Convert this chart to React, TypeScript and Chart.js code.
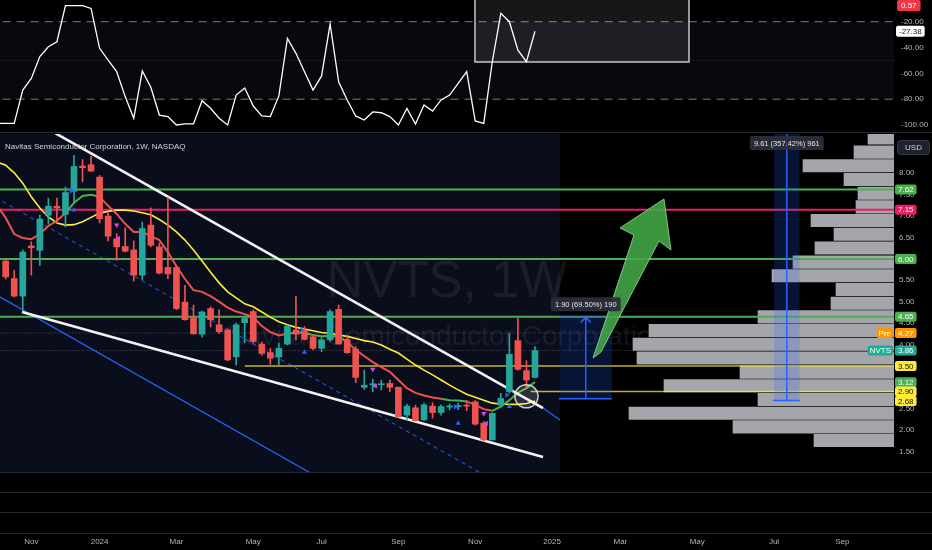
import React, { useEffect, useRef } from 'react';
import { Chart, registerables } from 'chart.js';

Chart.register(...registerables);

const FONT = '"Liberation Sans", Arial, Helvetica, sans-serif';
Chart.defaults.font.family = FONT;

const AXIS_TEXT = '#b2b5be';
const BULL = '#26a69a';
const BEAR = '#ef5350';
const GREEN = '#4caf50';
const PINK = '#e91e63';
const YELLOW = '#ffeb3b';
const BLUE = '#2962ff';

// x = weeks counted from the weekly bar of Mon 1 Jan 2024
const T_MIN = -11.667;
const T_MAX = 93.054;
const P_MIN = 1.021;
const P_MAX = 8.918;
const OSC_MIN = -105.42;
const OSC_MAX = -3.195;

const monthTickWeeks = [-8, 0, 9, 18, 26, 35, 44, 53, 61, 70, 79, 87];
const monthTickLabels = ['Nov', '2024', 'Mar', 'May', 'Jul', 'Sep', 'Nov', '2025', 'Mar', 'May', 'Jul', 'Sep'];

// ---- weekly candles, first bar = week -11 (Oct 16 2023) ----
const FIRST_CANDLE_WEEK = -11;
const opens = [5.95, 5.54, 5.13, 6.30, 6.20, 7.02, 7.23, 7.04, 7.58, 8.17, 8.20, 7.91, 7.00, 6.47, 6.29, 6.21, 5.62, 6.79, 6.28, 5.80, 5.80, 4.99, 4.62, 4.24, 4.84, 4.46, 4.34, 3.71, 4.51, 4.77, 4.01, 3.81, 3.71, 4.01, 4.34, 4.34, 4.18, 3.91, 4.11, 4.82, 4.12, 3.89, 3.00, 3.06, 3.06, 3.09, 3.00, 2.35, 2.52, 2.24, 2.56, 2.41, 2.54, 2.55, 2.58, 2.66, 2.16, 1.77, 2.58, 2.90, 4.09, 3.39, 3.23];
const highs = [6.00, 5.73, 6.21, 6.40, 7.02, 7.42, 7.42, 7.68, 8.42, 8.32, 8.40, 7.95, 7.07, 6.59, 6.73, 6.42, 6.86, 7.19, 6.37, 7.43, 5.83, 5.38, 4.92, 4.78, 4.88, 4.81, 4.36, 4.50, 4.67, 4.81, 4.06, 3.91, 4.03, 4.45, 5.13, 4.42, 4.22, 4.18, 4.81, 4.92, 4.22, 3.95, 3.40, 3.19, 3.17, 3.17, 3.01, 2.61, 2.58, 2.63, 2.64, 2.59, 2.61, 2.63, 2.69, 2.69, 2.20, 2.41, 2.86, 4.26, 4.61, 3.62, 3.95];
const lows = [5.53, 5.11, 4.80, 5.62, 5.85, 6.81, 6.84, 6.75, 7.33, 7.80, 8.05, 6.84, 6.42, 5.97, 6.16, 5.48, 5.51, 6.28, 5.65, 5.54, 4.81, 4.57, 4.24, 4.17, 4.41, 4.26, 3.62, 3.52, 4.04, 4.03, 3.75, 3.54, 3.52, 3.99, 4.10, 4.10, 3.88, 3.83, 4.07, 4.01, 3.79, 3.11, 2.95, 2.90, 2.94, 2.90, 2.30, 2.25, 2.21, 2.22, 2.28, 2.35, 2.47, 2.48, 2.45, 2.12, 1.75, 1.77, 2.55, 2.86, 3.40, 2.98, 3.23];
const closes = [5.58, 5.13, 6.16, 6.26, 6.93, 7.23, 7.19, 7.55, 8.16, 8.13, 8.05, 6.94, 6.53, 6.28, 6.18, 5.62, 6.71, 6.32, 5.67, 5.65, 4.84, 4.58, 4.25, 4.76, 4.58, 4.30, 3.64, 4.46, 4.61, 4.07, 3.79, 3.68, 3.91, 4.43, 4.24, 4.12, 3.91, 4.11, 4.77, 4.01, 3.81, 3.23, 3.05, 3.08, 3.08, 3.00, 2.31, 2.56, 2.22, 2.59, 2.41, 2.55, 2.56, 2.56, 2.56, 2.14, 1.77, 2.39, 2.74, 3.77, 3.42, 3.17, 3.86];

// ---- moving averages, first point = week -12 ----
const FIRST_MA_WEEK = -12;
const fastMa = [7.24, 6.96, 6.58, 6.49, 6.46, 6.58, 6.77, 6.89, 7.07, 7.31, 7.47, 7.50, 7.45, 7.24, 7.05, 6.82, 6.63, 6.63, 6.53, 6.44, 6.16, 5.83, 5.53, 5.27, 5.23, 5.13, 5.00, 4.86, 4.77, 4.71, 4.64, 4.43, 4.29, 4.21, 4.25, 4.28, 4.27, 4.22, 4.19, 4.20, 4.18, 4.06, 3.87, 3.73, 3.59, 3.47, 3.36, 3.17, 2.98, 2.87, 2.81, 2.76, 2.73, 2.70, 2.69, 2.67, 2.59, 2.49, 2.45, 2.55, 2.70, 2.87, 2.98, 3.12];
const fastMaUp = [0, 0, 0, 0, 0, 0, 0, 0, 1, 1, 1, 1, 0, 0, 0, 0, 0, 0, 0, 0, 0, 0, 0, 0, 0, 0, 0, 0, 0, 0, 0, 0, 0, 0, 1, 1, 1, 1, 1, 1, 1, 0, 0, 0, 0, 0, 0, 0, 0, 0, 0, 0, 1, 1, 1, 0, 0, 0, 1, 1, 1, 1, 1, 1];
const slowMa = [8.26, 8.19, 8.01, 7.77, 7.45, 7.19, 6.98, 6.84, 6.79, 6.80, 6.87, 6.97, 7.07, 7.11, 7.14, 7.14, 7.12, 7.08, 7.03, 6.92, 6.79, 6.63, 6.44, 6.21, 5.95, 5.69, 5.44, 5.23, 5.09, 4.95, 4.88, 4.76, 4.64, 4.53, 4.46, 4.40, 4.36, 4.32, 4.28, 4.26, 4.22, 4.19, 4.14, 4.09, 4.06, 3.99, 3.89, 3.80, 3.66, 3.52, 3.40, 3.29, 3.17, 3.05, 2.94, 2.84, 2.77, 2.70, 2.63, 2.61, 2.60, 2.60, 2.62, 2.68];

// ---- Williams %R, first point = week -12 ----
const FIRST_OSC_WEEK = -12;
const williamsR = [-98.7, -98.7, -98.7, -72.9, -63.9, -47, -39.4, -35.5, -7.6, -7.6, -7.6, -9.7, -40.6, -49.7, -58.7, -78, -94.8, -58.2, -70.8, -92.3, -93.5, -100, -99.2, -99.2, -81.2, -87, -94.8, -100, -76.8, -71.4, -85.3, -93, -93.5, -77.5, -32.9, -44.5, -58.7, -72.9, -62, -21.8, -66.5, -80.6, -93, -96.1, -89.9, -90.5, -93.5, -100, -87.1, -99.2, -84.5, -89.2, -80.6, -76.8, -67.7, -58.7, -96.9, -98.7, -51, -13.5, -20, -42, -51, -27.38];
const oscBoxWeeks = [43.97, 69.04];
const oscBoxValues = [0, -51.2];

// ---- volume profile (bins bottom to top) ----
const profilePrices = [1.90, 2.22, 2.54, 2.86, 3.18, 3.50, 3.83, 4.15, 4.47, 4.79, 5.11, 5.43, 5.75, 6.07, 6.40, 6.72, 7.04, 7.36, 7.68, 8.00, 8.32, 8.64, 8.97];
const profileVolumes = [80, 161, 265, 136, 230, 154, 257, 261, 245, 136, 63, 58, 122, 101, 79, 60, 83, 38, 36, 50, 91, 40, 26];

// ---- horizontal levels ----
const levelPrices = [7.62, 7.15, 6.00, 4.65, 3.50, 2.90];
const levelStartWeeks = [-13, -13, -13, -13, 17, 50.5];
const levelColors = [GREEN, PINK, GREEN, GREEN, 'rgba(255,235,59,0.75)', 'rgba(255,235,59,0.75)'];
const levelWidths = [2, 2, 2, 2, 1.5, 1.5];
const priceLinePrices = [4.27, 3.86];

// ---- trend lines (week, price) ----
const wedgeUpperWeeks = [-6, 51.94];
const wedgeUpperPrices = [9.028, 2.516];
const wedgeLowerWeeks = [-9.09, 51.94];
const wedgeLowerPrices = [4.759, 1.371];
const channelBaseWeeks = [-13, 26];
const channelBasePrices = [5.261, 0.85];
const channelMidWeeks = [-13, 45];
const channelMidPrices = [7.527, 0.956];
const channelTailWeeks = [51.94, 53.93];
const channelTailPrices = [2.516, 2.236];

// ---- signal markers ----
const signalUpWeeks = [-3, 24, 42, 48];
const signalUpPrices = [7.14, 3.82, 2.16, 2.55];
const signalRightWeeks = [-3.3, 23.7, 41.7, 47.7];
const signalRightPrices = [7.59, 4.34, 2.55, 2.82];
const signalDownWeeks = [2, 32, 45];
const signalDownPrices = [6.79, 3.42, 2.39];
const signalLeftWeeks = [2.2, 32.3, 45.3];
const signalLeftPrices = [6.48, 3.03, 2.16];

// ---- drawings ----
const zoneWeeks = [-13, 53.9];
const measure1Weeks = [53.9, 60.0];
const measure1Prices = [2.734, 4.634];
const measure1Label = '1.90 (69.50%) 190';
const measure2Weeks = [79, 82];
const measure2Prices = [2.69, 12.30];
const measure2Label = '9.61 (357.42%) 961';
const arrowWeeks = [57.8, 62.6, 60.96, 66.11, 66.93, 65.53, 58.73];
const arrowPrices = [3.685, 6.558, 6.722, 7.399, 6.208, 6.418, 3.825];
const circleWeek = 50;
const circlePrice = 2.79;
const circleRadiusPrice = 0.27;

// ---- axis tags ----
const tagPrices = [7.62, 7.15, 6.00, 4.65, 4.27, 3.86, 3.50, 3.12, 2.90, 2.68];
const tagColors = [GREEN, PINK, GREEN, GREEN, '#ff9800', '#22ab94', YELLOW, GREEN, YELLOW, YELLOW];
const tagTextColors = ['#fff', '#fff', '#fff', '#fff', '#fff', '#fff', '#111', '#fff', '#111', '#111'];
const sideTagNames = ['Pre', 'NVTS'];
const sideTagPrices = [4.27, 3.86];
const sideTagColors = ['#ff9800', '#22ab94'];

function box(ctx: CanvasRenderingContext2D, x: number, y: number, w: number, h: number, r: number) {
  ctx.beginPath();
  const c: any = ctx;
  if (c.roundRect) c.roundRect(x, y, w, h, r);
  else ctx.rect(x, y, w, h);
}

const lineDs = (pts: { x: number; y: number }[], color: string, width: number, extra: any = {}) => ({
  type: 'line',
  data: pts,
  borderColor: color,
  borderWidth: width,
  pointRadius: 0,
  pointHoverRadius: 0,
  tension: 0,
  ...extra,
});

const pairs = (ws: number[], ps: number[]) => ws.map((w, i) => ({ x: w, y: ps[i] }));

function measureGeom(chart: any, weeks: number[], prices: number[]) {
  const { chartArea: a, scales } = chart;
  const x0 = scales.x.getPixelForValue(weeks[0]);
  const x1 = scales.x.getPixelForValue(weeks[1]);
  const yb = scales.y.getPixelForValue(prices[0]);
  const ytRaw = scales.y.getPixelForValue(prices[1]);
  return { x0, x1, xm: (x0 + x1) / 2, yb, ytRaw, topVisible: ytRaw >= a.top, yt: Math.max(ytRaw, a.top) };
}

function drawMeasureBody(chart: any, weeks: number[], prices: number[]) {
  const { ctx } = chart;
  const g = measureGeom(chart, weeks, prices);
  ctx.save();
  ctx.fillStyle = 'rgba(41,98,255,0.2)';
  ctx.fillRect(g.x0, g.yt, g.x1 - g.x0, g.yb - g.yt);
  ctx.strokeStyle = BLUE;
  ctx.lineWidth = 1.5;
  ctx.beginPath();
  ctx.moveTo(g.x0 - 1, g.yb);
  ctx.lineTo(g.x1, g.yb);
  if (g.topVisible) {
    ctx.moveTo(g.x0, g.ytRaw);
    ctx.lineTo(g.x1, g.ytRaw);
  }
  ctx.moveTo(g.xm, g.yb);
  ctx.lineTo(g.xm, g.yt);
  if (g.topVisible) {
    ctx.moveTo(g.xm - 5, g.ytRaw + 5);
    ctx.lineTo(g.xm, g.ytRaw);
    ctx.lineTo(g.xm + 5, g.ytRaw + 5);
  }
  ctx.stroke();
  ctx.restore();
}

function drawMeasureLabel(chart: any, weeks: number[], prices: number[], label: string) {
  const { ctx, chartArea: a } = chart;
  const g = measureGeom(chart, weeks, prices);
  ctx.save();
  ctx.font = `7.5px ${FONT}`;
  const w = ctx.measureText(label).width + 8;
  const h = 14;
  const ly = g.topVisible ? g.ytRaw - 6 - h : a.top + 2;
  ctx.fillStyle = 'rgba(42,46,57,0.95)';
  box(ctx, g.xm - w / 2, ly, w, h, 2);
  ctx.fill();
  ctx.fillStyle = '#e0e3eb';
  ctx.textAlign = 'center';
  ctx.textBaseline = 'middle';
  ctx.fillText(label, g.xm, ly + h / 2 + 0.5);
  ctx.restore();
}

const mainOverlay = {
  id: 'mainOverlay',
  beforeDatasetsDraw(chart: any) {
    const { ctx, chartArea: a, scales } = chart;
    ctx.save();
    const zx0 = Math.max(a.left, scales.x.getPixelForValue(zoneWeeks[0]));
    const zx1 = scales.x.getPixelForValue(zoneWeeks[1]);
    ctx.fillStyle = '#0a0e1c';
    ctx.fillRect(zx0, a.top, zx1 - zx0, a.bottom - a.top);
    const cx = (a.left + a.right) / 2;
    ctx.fillStyle = 'rgba(120,123,134,0.15)';
    ctx.textAlign = 'center';
    ctx.textBaseline = 'alphabetic';
    ctx.font = `51px ${FONT}`;
    ctx.fillText('NVTS, 1W', cx, a.top + 163);
    ctx.font = `28px ${FONT}`;
    ctx.fillText('Navitas Semiconductor Corporation', cx, a.top + 211);
    ctx.restore();
  },
  afterDatasetsDraw(chart: any) {
    const { ctx, chartArea: a, scales } = chart;
    ctx.save();
    ctx.beginPath();
    ctx.rect(a.left, a.top, a.right - a.left, a.bottom - a.top);
    ctx.clip();
    drawMeasureBody(chart, measure1Weeks, measure1Prices);
    drawMeasureBody(chart, measure2Weeks, measure2Prices);
    // green arrow
    ctx.beginPath();
    arrowWeeks.forEach((w, i) => {
      const px = scales.x.getPixelForValue(w);
      const py = scales.y.getPixelForValue(arrowPrices[i]);
      if (i === 0) ctx.moveTo(px, py);
      else ctx.lineTo(px, py);
    });
    ctx.closePath();
    ctx.fillStyle = 'rgba(67,170,72,0.88)';
    ctx.fill();
    ctx.strokeStyle = 'rgba(140,210,140,0.9)';
    ctx.lineWidth = 1;
    ctx.stroke();
    drawMeasureLabel(chart, measure1Weeks, measure1Prices, measure1Label);
    drawMeasureLabel(chart, measure2Weeks, measure2Prices, measure2Label);
    // circle highlight
    const ccx = scales.x.getPixelForValue(circleWeek);
    const ccy = scales.y.getPixelForValue(circlePrice);
    const r = Math.abs(scales.y.getPixelForValue(circlePrice + circleRadiusPrice) - ccy);
    ctx.beginPath();
    ctx.arc(ccx, ccy, r, 0, Math.PI * 2);
    ctx.fillStyle = 'rgba(255,255,255,0.14)';
    ctx.fill();
    ctx.strokeStyle = 'rgba(235,235,235,0.85)';
    ctx.lineWidth = 1.5;
    ctx.stroke();
    // title
    ctx.font = `8px ${FONT}`;
    ctx.fillStyle = '#d1d4dc';
    ctx.textAlign = 'left';
    ctx.textBaseline = 'middle';
    ctx.fillText('Navitas Semiconductor Corporation, 1W, NASDAQ', a.left + 5, a.top + 13);
    ctx.restore();
  },
  afterDraw(chart: any) {
    const { ctx, chartArea: a, scales } = chart;
    ctx.save();
    ctx.font = `8px ${FONT}`;
    ctx.textBaseline = 'middle';
    ctx.textAlign = 'center';
    tagPrices.forEach((p, i) => {
      const yy = scales.y.getPixelForValue(p);
      const text = p.toFixed(2);
      const w = ctx.measureText(text).width + 6;
      ctx.fillStyle = tagColors[i];
      box(ctx, a.right + 1, yy - 5, w, 10, 2);
      ctx.fill();
      ctx.fillStyle = tagTextColors[i];
      ctx.fillText(text, a.right + 1 + w / 2, yy + 0.5);
    });
    sideTagNames.forEach((name, i) => {
      const yy = scales.y.getPixelForValue(sideTagPrices[i]);
      const w = ctx.measureText(name).width + 4;
      ctx.fillStyle = sideTagColors[i];
      box(ctx, a.right - w - 1, yy - 5, w, 10, 2);
      ctx.fill();
      ctx.fillStyle = '#fff';
      ctx.fillText(name, a.right - 1 - w / 2, yy + 0.5);
    });
    // currency box
    ctx.fillStyle = '#1e222d';
    ctx.strokeStyle = '#363a45';
    ctx.lineWidth = 1;
    box(ctx, a.right + 3.5, a.top + 6.5, 32, 14, 3);
    ctx.fill();
    ctx.stroke();
    ctx.fillStyle = '#d1d4dc';
    ctx.fillText('USD', a.right + 19.5, a.top + 14);
    ctx.restore();
  },
};

const NO_PAD = { autoPadding: false, padding: 0 };

function createMain(canvas: HTMLCanvasElement) {
  const candleWeeks = opens.map((_, i) => FIRST_CANDLE_WEEK + i);
  const candleColors = opens.map((o, i) => (closes[i] >= o ? BULL : BEAR));
  const maWeeks = fastMa.map((_, i) => FIRST_MA_WEEK + i);
  const datasets: any[] = [];

  priceLinePrices.forEach((p) =>
    datasets.push(lineDs([{ x: -13, y: p }, { x: 95, y: p }], 'rgba(160,160,160,0.45)', 1, { borderDash: [1, 2], order: 110 }))
  );
  datasets.push({
    type: 'bar',
    indexAxis: 'y',
    xAxisID: 'xv',
    yAxisID: 'yv',
    data: profilePrices.map((p, i) => ({ y: p, x: profileVolumes[i] })),
    backgroundColor: '#a4a6ac',
    barThickness: 12.4,
    order: 100,
  });
  datasets.push(lineDs(pairs(channelBaseWeeks, channelBasePrices), BLUE, 1.2, { order: 90 }));
  datasets.push(lineDs(pairs(channelMidWeeks, channelMidPrices), BLUE, 1, { borderDash: [4, 4], order: 90 }));
  datasets.push(lineDs(pairs(channelTailWeeks, channelTailPrices), BLUE, 1.2, { order: 90 }));
  levelPrices.forEach((p, i) =>
    datasets.push(lineDs([{ x: levelStartWeeks[i], y: p }, { x: 95, y: p }], levelColors[i], levelWidths[i], { order: 80 }))
  );
  datasets.push(lineDs(maWeeks.map((w, i) => ({ x: w, y: slowMa[i] })), YELLOW, 1.6, { order: 60 }));
  datasets.push(
    lineDs(maWeeks.map((w, i) => ({ x: w, y: fastMa[i] })), BEAR, 2, {
      order: 55,
      segment: { borderColor: (c: any) => (fastMaUp[c.p0DataIndex] ? GREEN : '#f05050') },
    })
  );
  datasets.push(lineDs(pairs(wedgeUpperWeeks, wedgeUpperPrices), 'rgba(255,255,255,0.95)', 2.6, { order: 40 }));
  datasets.push(lineDs(pairs(wedgeLowerWeeks, wedgeLowerPrices), 'rgba(255,255,255,0.95)', 2.6, { order: 40 }));
  datasets.push({
    type: 'bar',
    data: candleWeeks.map((w, i) => ({ x: w, y: [lows[i], highs[i]] })),
    backgroundColor: candleColors,
    grouped: false,
    barThickness: 1,
    maxBarThickness: 1,
    order: 12,
  });
  datasets.push({
    type: 'bar',
    data: candleWeeks.map((w, i) => ({ x: w, y: [opens[i], closes[i]] })),
    backgroundColor: candleColors,
    grouped: false,
    barThickness: 6,
    maxBarThickness: 6,
    minBarLength: 1,
    order: 10,
  });
  const marker = (ws: number[], ps: number[], color: string, rot: number) =>
    lineDs(pairs(ws, ps), color, 0, {
      showLine: false,
      pointRadius: 3,
      pointStyle: 'triangle',
      pointRotation: rot,
      pointBackgroundColor: color,
      pointBorderWidth: 0,
      order: 5,
    });
  datasets.push(marker(signalUpWeeks, signalUpPrices, BLUE, 0));
  datasets.push(marker(signalRightWeeks, signalRightPrices, BLUE, 90));
  datasets.push(marker(signalDownWeeks, signalDownPrices, '#e040fb', 180));
  datasets.push(marker(signalLeftWeeks, signalLeftPrices, '#e040fb', 270));

  return new Chart(canvas, {
    type: 'bar',
    data: { datasets },
    options: {
      animation: false,
      responsive: false,
      events: [],
      layout: NO_PAD,
      plugins: { legend: { display: false }, tooltip: { enabled: false } },
      scales: {
        x: { type: 'linear', min: T_MIN, max: T_MAX, display: false, offset: false, ticks: { includeBounds: false } },
        xv: { type: 'linear', axis: 'x', min: 0, max: 894, reverse: true, display: false, offset: false },
        yv: { type: 'linear', axis: 'y', min: P_MIN, max: P_MAX, display: false, offset: false },
        y: {
          type: 'linear',
          position: 'right',
          min: P_MIN,
          max: P_MAX,
          offset: false,
          grid: { display: false, drawTicks: false },
          border: { display: false },
          ticks: {
            stepSize: 0.5,
            includeBounds: false,
            color: AXIS_TEXT,
            font: { size: 8, family: FONT },
            padding: 5,
            callback: (v: any) => Number(v).toFixed(2),
          },
          afterFit: (s: any) => {
            s.width = 38;
            s.paddingTop = 0;
            s.paddingBottom = 0;
          },
        },
      },
    } as any,
    plugins: [mainOverlay],
  } as any);
}

const oscOverlay = {
  id: 'oscOverlay',
  beforeDatasetDraw(chart: any, args: any) {
    if (args.index !== 0) return;
    const { ctx, chartArea: a, scales } = chart;
    const x0 = scales.x.getPixelForValue(oscBoxWeeks[0]);
    const x1 = scales.x.getPixelForValue(oscBoxWeeks[1]);
    const y0 = scales.y.getPixelForValue(oscBoxValues[0]);
    const y1 = scales.y.getPixelForValue(oscBoxValues[1]);
    ctx.save();
    ctx.beginPath();
    ctx.rect(a.left, a.top, a.right - a.left, a.bottom - a.top);
    ctx.clip();
    ctx.fillStyle = 'rgba(255,255,255,0.09)';
    ctx.fillRect(x0, y0, x1 - x0, y1 - y0);
    ctx.strokeStyle = 'rgba(215,217,225,0.9)';
    ctx.lineWidth = 1.5;
    ctx.strokeRect(x0, y0, x1 - x0, y1 - y0);
    ctx.restore();
  },
  afterDraw(chart: any) {
    const { ctx, chartArea: a, scales } = chart;
    ctx.save();
    ctx.font = `8px ${FONT}`;
    ctx.textAlign = 'center';
    ctx.textBaseline = 'middle';
    const t1 = '0.57';
    const w1 = ctx.measureText(t1).width + 8;
    ctx.fillStyle = '#f23645';
    box(ctx, a.right + 3, a.top, w1, 11, 2);
    ctx.fill();
    ctx.fillStyle = '#fff';
    ctx.fillText(t1, a.right + 3 + w1 / 2, a.top + 6);
    const last = williamsR[williamsR.length - 1];
    const t2 = last.toFixed(2);
    const y2 = scales.y.getPixelForValue(last);
    const w2 = ctx.measureText(t2).width + 6;
    ctx.fillStyle = '#ffffff';
    box(ctx, a.right + 2, y2 - 5.5, w2, 11, 2);
    ctx.fill();
    ctx.fillStyle = '#131722';
    ctx.fillText(t2, a.right + 2 + w2 / 2, y2 + 0.5);
    ctx.restore();
  },
};

function createOsc(canvas: HTMLCanvasElement) {
  const oscWeeks = williamsR.map((_, i) => FIRST_OSC_WEEK + i);
  const flat = (v: number) => [{ x: -13, y: v }, { x: 95, y: v }];
  return new Chart(canvas, {
    type: 'line',
    data: {
      datasets: [
        lineDs(oscWeeks.map((w, i) => ({ x: w, y: williamsR[i] })), '#ffffff', 1.3, { order: 1 }),
        lineDs(flat(-20), '#787b86', 1, {
          borderDash: [8, 6],
          fill: { value: -80 },
          backgroundColor: 'rgba(126,87,194,0.08)',
          order: 5,
        }),
        lineDs(flat(-80), '#787b86', 1, { borderDash: [8, 6], order: 5 }),
        lineDs(flat(-50), 'rgba(120,123,134,0.45)', 1, { borderDash: [1, 3], order: 5 }),
      ],
    },
    options: {
      animation: false,
      responsive: false,
      events: [],
      layout: NO_PAD,
      plugins: { legend: { display: false }, tooltip: { enabled: false } },
      scales: {
        x: { type: 'linear', min: T_MIN, max: T_MAX, display: false, offset: false },
        y: {
          type: 'linear',
          position: 'right',
          min: OSC_MIN,
          max: OSC_MAX,
          grid: { display: false, drawTicks: false },
          border: { display: false },
          ticks: {
            stepSize: 20,
            includeBounds: false,
            color: AXIS_TEXT,
            font: { size: 8, family: FONT },
            padding: 7,
            callback: (v: any) => Number(v).toFixed(2),
          },
          afterFit: (s: any) => {
            s.width = 38;
            s.paddingTop = 0;
            s.paddingBottom = 0;
          },
        },
      },
    } as any,
    plugins: [oscOverlay],
  } as any);
}

function createAxis(canvas: HTMLCanvasElement) {
  return new Chart(canvas, {
    type: 'line',
    data: { datasets: [] },
    options: {
      animation: false,
      responsive: false,
      events: [],
      layout: NO_PAD,
      plugins: { legend: { display: false }, tooltip: { enabled: false } },
      scales: {
        x: {
          type: 'linear',
          min: T_MIN,
          max: T_MAX,
          offset: false,
          afterBuildTicks: (s: any) => {
            s.ticks = monthTickWeeks.map((v) => ({ value: v }));
          },
          ticks: {
            autoSkip: false,
            maxRotation: 0,
            padding: 4,
            color: AXIS_TEXT,
            font: { size: 8, family: FONT },
            callback: (_v: any, i: number) => monthTickLabels[i],
          },
          grid: { display: false, drawTicks: false },
          border: { display: false },
          afterFit: (s: any) => {
            s.height = 17;
            s.paddingLeft = 0;
            s.paddingRight = 0;
          },
        },
        y: {
          type: 'linear',
          position: 'right',
          min: 0,
          max: 3,
          ticks: { stepSize: 1, display: false },
          grid: { color: '#26282d', lineWidth: 1, drawTicks: true, tickLength: 38 },
          border: { display: false },
          afterFit: (s: any) => {
            s.width = 38;
            s.paddingTop = 0;
            s.paddingBottom = 0;
          },
        },
      },
    } as any,
  } as any);
}

export default function App() {
  const oscRef = useRef<HTMLCanvasElement>(null);
  const mainRef = useRef<HTMLCanvasElement>(null);
  const axisRef = useRef<HTMLCanvasElement>(null);

  useEffect(() => {
    const charts = [createOsc(oscRef.current!), createMain(mainRef.current!), createAxis(axisRef.current!)];
    return () => charts.forEach((c) => c.destroy());
  }, []);

  const abs = (top: number, height: number): React.CSSProperties => ({
    position: 'absolute',
    left: 0,
    top,
    width: 932,
    height,
    display: 'block',
  });

  return (
    <div style={{ position: 'absolute', left: 0, top: 0, width: 932, height: 550, background: '#000', overflow: 'hidden' }}>
      <canvas ref={oscRef} width={932} height={132} style={abs(0, 132)} />
      <div style={{ ...abs(132, 1), background: '#2a2c31' }} />
      <canvas ref={mainRef} width={932} height={338} style={abs(134, 338)} />
      <canvas ref={axisRef} width={932} height={78} style={abs(472, 78)} />
    </div>
  );
}
